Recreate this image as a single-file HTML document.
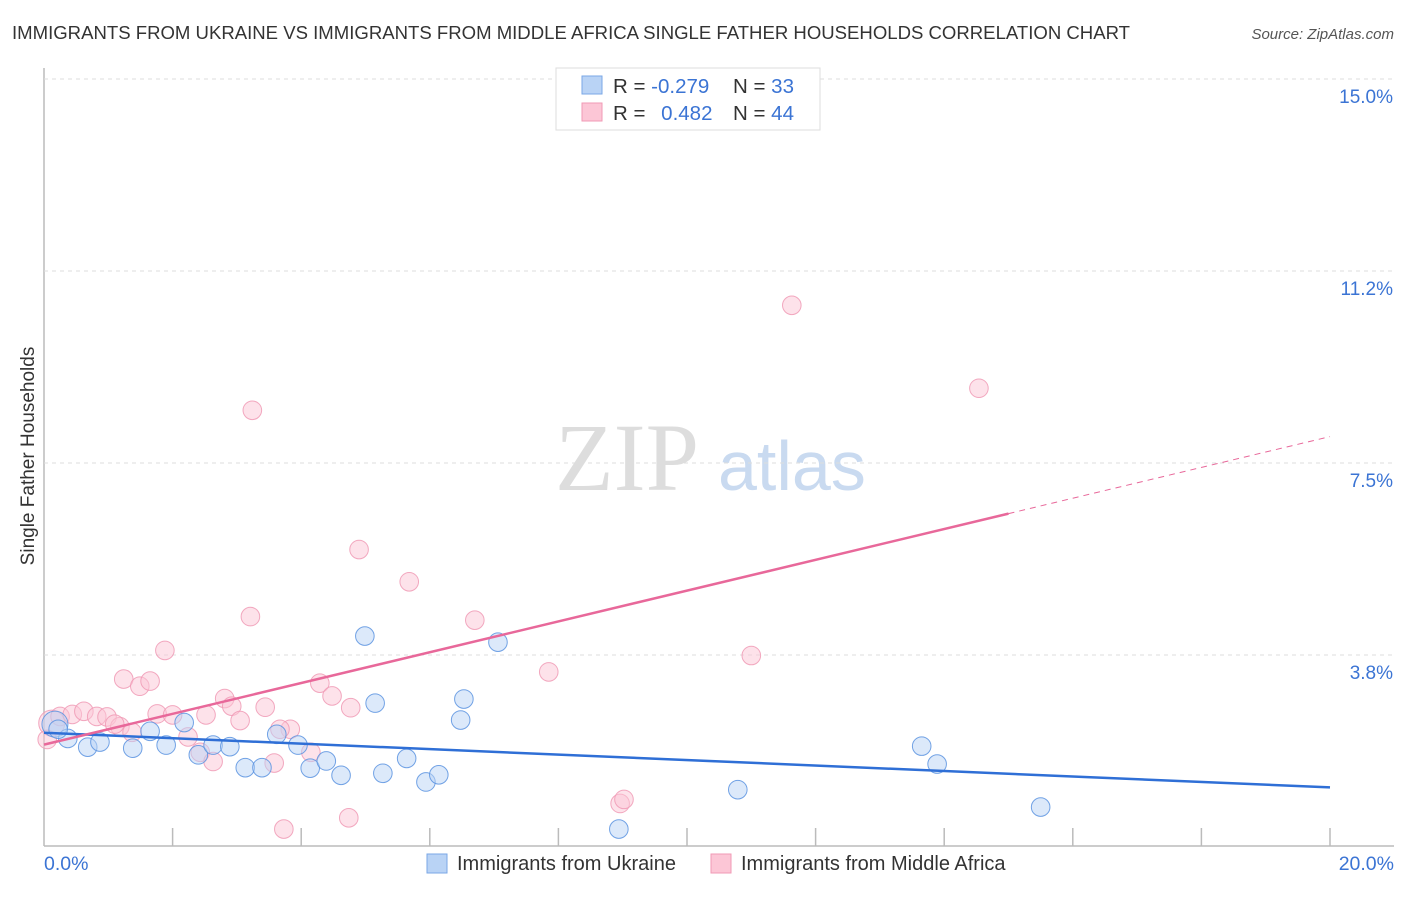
<!DOCTYPE html>
<html><head><meta charset="utf-8"><style>
body{margin:0;background:#fff;font-family:"Liberation Sans",sans-serif;}
</style></head><body>
<svg id="chart" width="1406" height="892" xmlns="http://www.w3.org/2000/svg" font-family="Liberation Sans, sans-serif">
<text x="12" y="39" font-size="18" fill="#333" textLength="1118" lengthAdjust="spacingAndGlyphs">IMMIGRANTS FROM UKRAINE VS IMMIGRANTS FROM MIDDLE AFRICA SINGLE FATHER HOUSEHOLDS CORRELATION CHART</text>
<text x="1394" y="39" font-size="15" fill="#555" font-style="italic" text-anchor="end">Source: ZipAtlas.com</text>
<text transform="translate(34,456) rotate(-90)" font-size="19" fill="#333" text-anchor="middle">Single Father Households</text>
<text x="555" y="490" font-size="96" fill="#ddd" font-family="Liberation Serif, serif">ZIP</text>
<text x="718" y="490" font-size="70" fill="#c9daf0">atlas</text>
<g id="grid"></g><g id="pts"></g>
<g>
<rect x="556" y="68" width="264" height="62" fill="#fff" stroke="#ddd"/>
<rect x="582" y="76" width="20" height="18" fill="#b9d3f5" stroke="#7aa7e6"/>
<rect x="582" y="103" width="20" height="18" fill="#fcc6d6" stroke="#f09ab5"/>
<text x="613" y="93" font-size="20.5" fill="#333">R = <tspan fill="#3b74d4">-0.279</tspan></text>
<text x="733" y="93" font-size="20.5" fill="#333">N = <tspan fill="#3b74d4">33</tspan></text>
<text x="613" y="120" font-size="20.5" fill="#333">R = <tspan fill="#3b74d4" dx="10">0.482</tspan></text>
<text x="733" y="120" font-size="20.5" fill="#333">N = <tspan fill="#3b74d4">44</tspan></text>
</g>
<g>
<rect x="427" y="854" width="20" height="19" fill="#b9d3f5" stroke="#7aa7e6"/>
<text x="457" y="870" font-size="20" fill="#333">Immigrants from Ukraine</text>
<rect x="711" y="854" width="20" height="19" fill="#fcc6d6" stroke="#f09ab5"/>
<text x="741" y="870" font-size="20" fill="#333">Immigrants from Middle Africa</text>
</g>
</svg>
<script>
const xTicks=[0,2,4,6,8,10,12,14,16,18,20];
const yTicks=[3.8,7.5,11.2,15.0];
const ukraineX=[0.17,0.37,0.68,0.87,1.38,1.65,1.9,2.18,2.4,2.63,2.89,3.13,3.39,3.62,3.95,4.14,4.39,4.62,4.99,5.15,5.27,5.64,5.94,6.14,6.48,6.53,7.06,8.94,10.79,13.65,13.89,15.5,0.22];
const ukraineY=[2.4,2.12,1.95,2.05,1.93,2.26,1.99,2.43,1.8,1.99,1.96,1.55,1.55,2.2,1.99,1.54,1.68,1.4,4.12,2.81,1.44,1.73,1.27,1.41,2.48,2.89,4.0,0.35,1.12,1.97,1.62,0.78,2.3];
const africaX=[0.12,0.25,0.44,0.62,0.82,0.98,1.18,1.24,1.37,1.49,1.65,1.76,1.88,2.0,2.24,2.43,2.52,2.63,2.81,2.92,3.05,3.24,3.21,3.44,3.58,3.73,3.83,4.15,4.29,4.48,4.74,4.77,4.9,5.68,6.7,7.85,8.96,9.02,11.0,11.63,14.54,3.67,1.1,0.05];
const africaY=[2.42,2.55,2.59,2.65,2.55,2.54,2.35,3.28,2.24,3.14,3.24,2.6,3.84,2.58,2.15,1.85,2.58,1.67,2.9,2.75,2.47,8.53,4.5,2.73,1.64,0.35,2.3,1.85,3.2,2.95,0.57,2.72,5.81,5.18,4.43,3.42,0.85,0.93,3.74,10.58,8.96,2.3,2.4,2.1];
const svg=document.getElementById('chart'),NS='http://www.w3.org/2000/svg';
const X=v=>44+v/20*1286, Y=v=>847-v*51.2;
function mk(t,a,p){const e=document.createElementNS(NS,t);for(const k in a)e.setAttribute(k,a[k]);(p||svg).appendChild(e);return e;}
const grid=document.getElementById('grid'),pts=document.getElementById('pts');
mk('line',{x1:44,y1:68,x2:44,y2:846,stroke:'#bbb','stroke-width':1.5},grid);
mk('line',{x1:44,y1:846,x2:1394,y2:846,stroke:'#bbb','stroke-width':1.5},grid);
xTicks.forEach((v,i)=>{if(i>0){const l=mk('line',{x1:X(v),y1:828,x2:X(v),y2:846,stroke:'#bbb','stroke-width':1.5},grid);

}});
[[0,'0.0%',44,'start'],[20,'20.0%',1394,'end']].forEach(d=>{const t=mk('text',{x:d[2],y:870,'font-size':19.5,fill:'#3b74d4','text-anchor':d[3]});t.textContent=d[1];

});
yTicks.forEach(v=>{const yy=847-(v===3.8?3.75:v===7.5?7.5:v===11.2?11.25:15)*51.2;
const l=mk('line',{x1:44,y1:yy,x2:1394,y2:yy,stroke:'#ddd','stroke-dasharray':'4,4'},grid);


const t=mk('text',{x:1393,y:yy+24,'font-size':19,fill:'#3b74d4','text-anchor':'end'},grid);t.textContent=v.toFixed(1)+'%';

});
function dots(xs,ys,f,s,name,big){xs.forEach((x,i)=>{const c=mk('circle',{cx:X(x),cy:Y(ys[i]),r:(i===0&&big)?13:9.3,fill:f,'fill-opacity':0.5,stroke:s,'stroke-width':1,'stroke-opacity':0.85},pts);

});}
dots(africaX,africaY,'#fbc5d5','#f09ab5','africa-point',true);
dots(ukraineX,ukraineY,'#b9d3f5','#5b93e0','ukraine-point',true);
function fit(xs,ys){const n=xs.length,mx=xs.reduce((a,b)=>a+b)/n,my=ys.reduce((a,b)=>a+b)/n;let sxy=0,sxx=0;xs.forEach((x,i)=>{sxy+=(x-mx)*(ys[i]-my);sxx+=(x-mx)**2});const b=sxy/sxx;return [my-b*mx,b];}
const [ua,ub]=fit(ukraineX,ukraineY),[aa,ab]=fit(africaX,africaY);
let l=mk('line',{x1:X(0),y1:Y(ua),x2:X(20),y2:Y(ua+ub*20),stroke:'#2f6fd6','stroke-width':2.5});


l=mk('line',{x1:X(0),y1:Y(aa),x2:X(15),y2:Y(aa+ab*15),stroke:'#e8689a','stroke-width':2.5});


l=mk('line',{x1:X(15),y1:Y(aa+ab*15),x2:X(20),y2:Y(aa+ab*20),stroke:'#e8689a','stroke-width':1,'stroke-dasharray':'6,5'});


</script>
</body></html>
